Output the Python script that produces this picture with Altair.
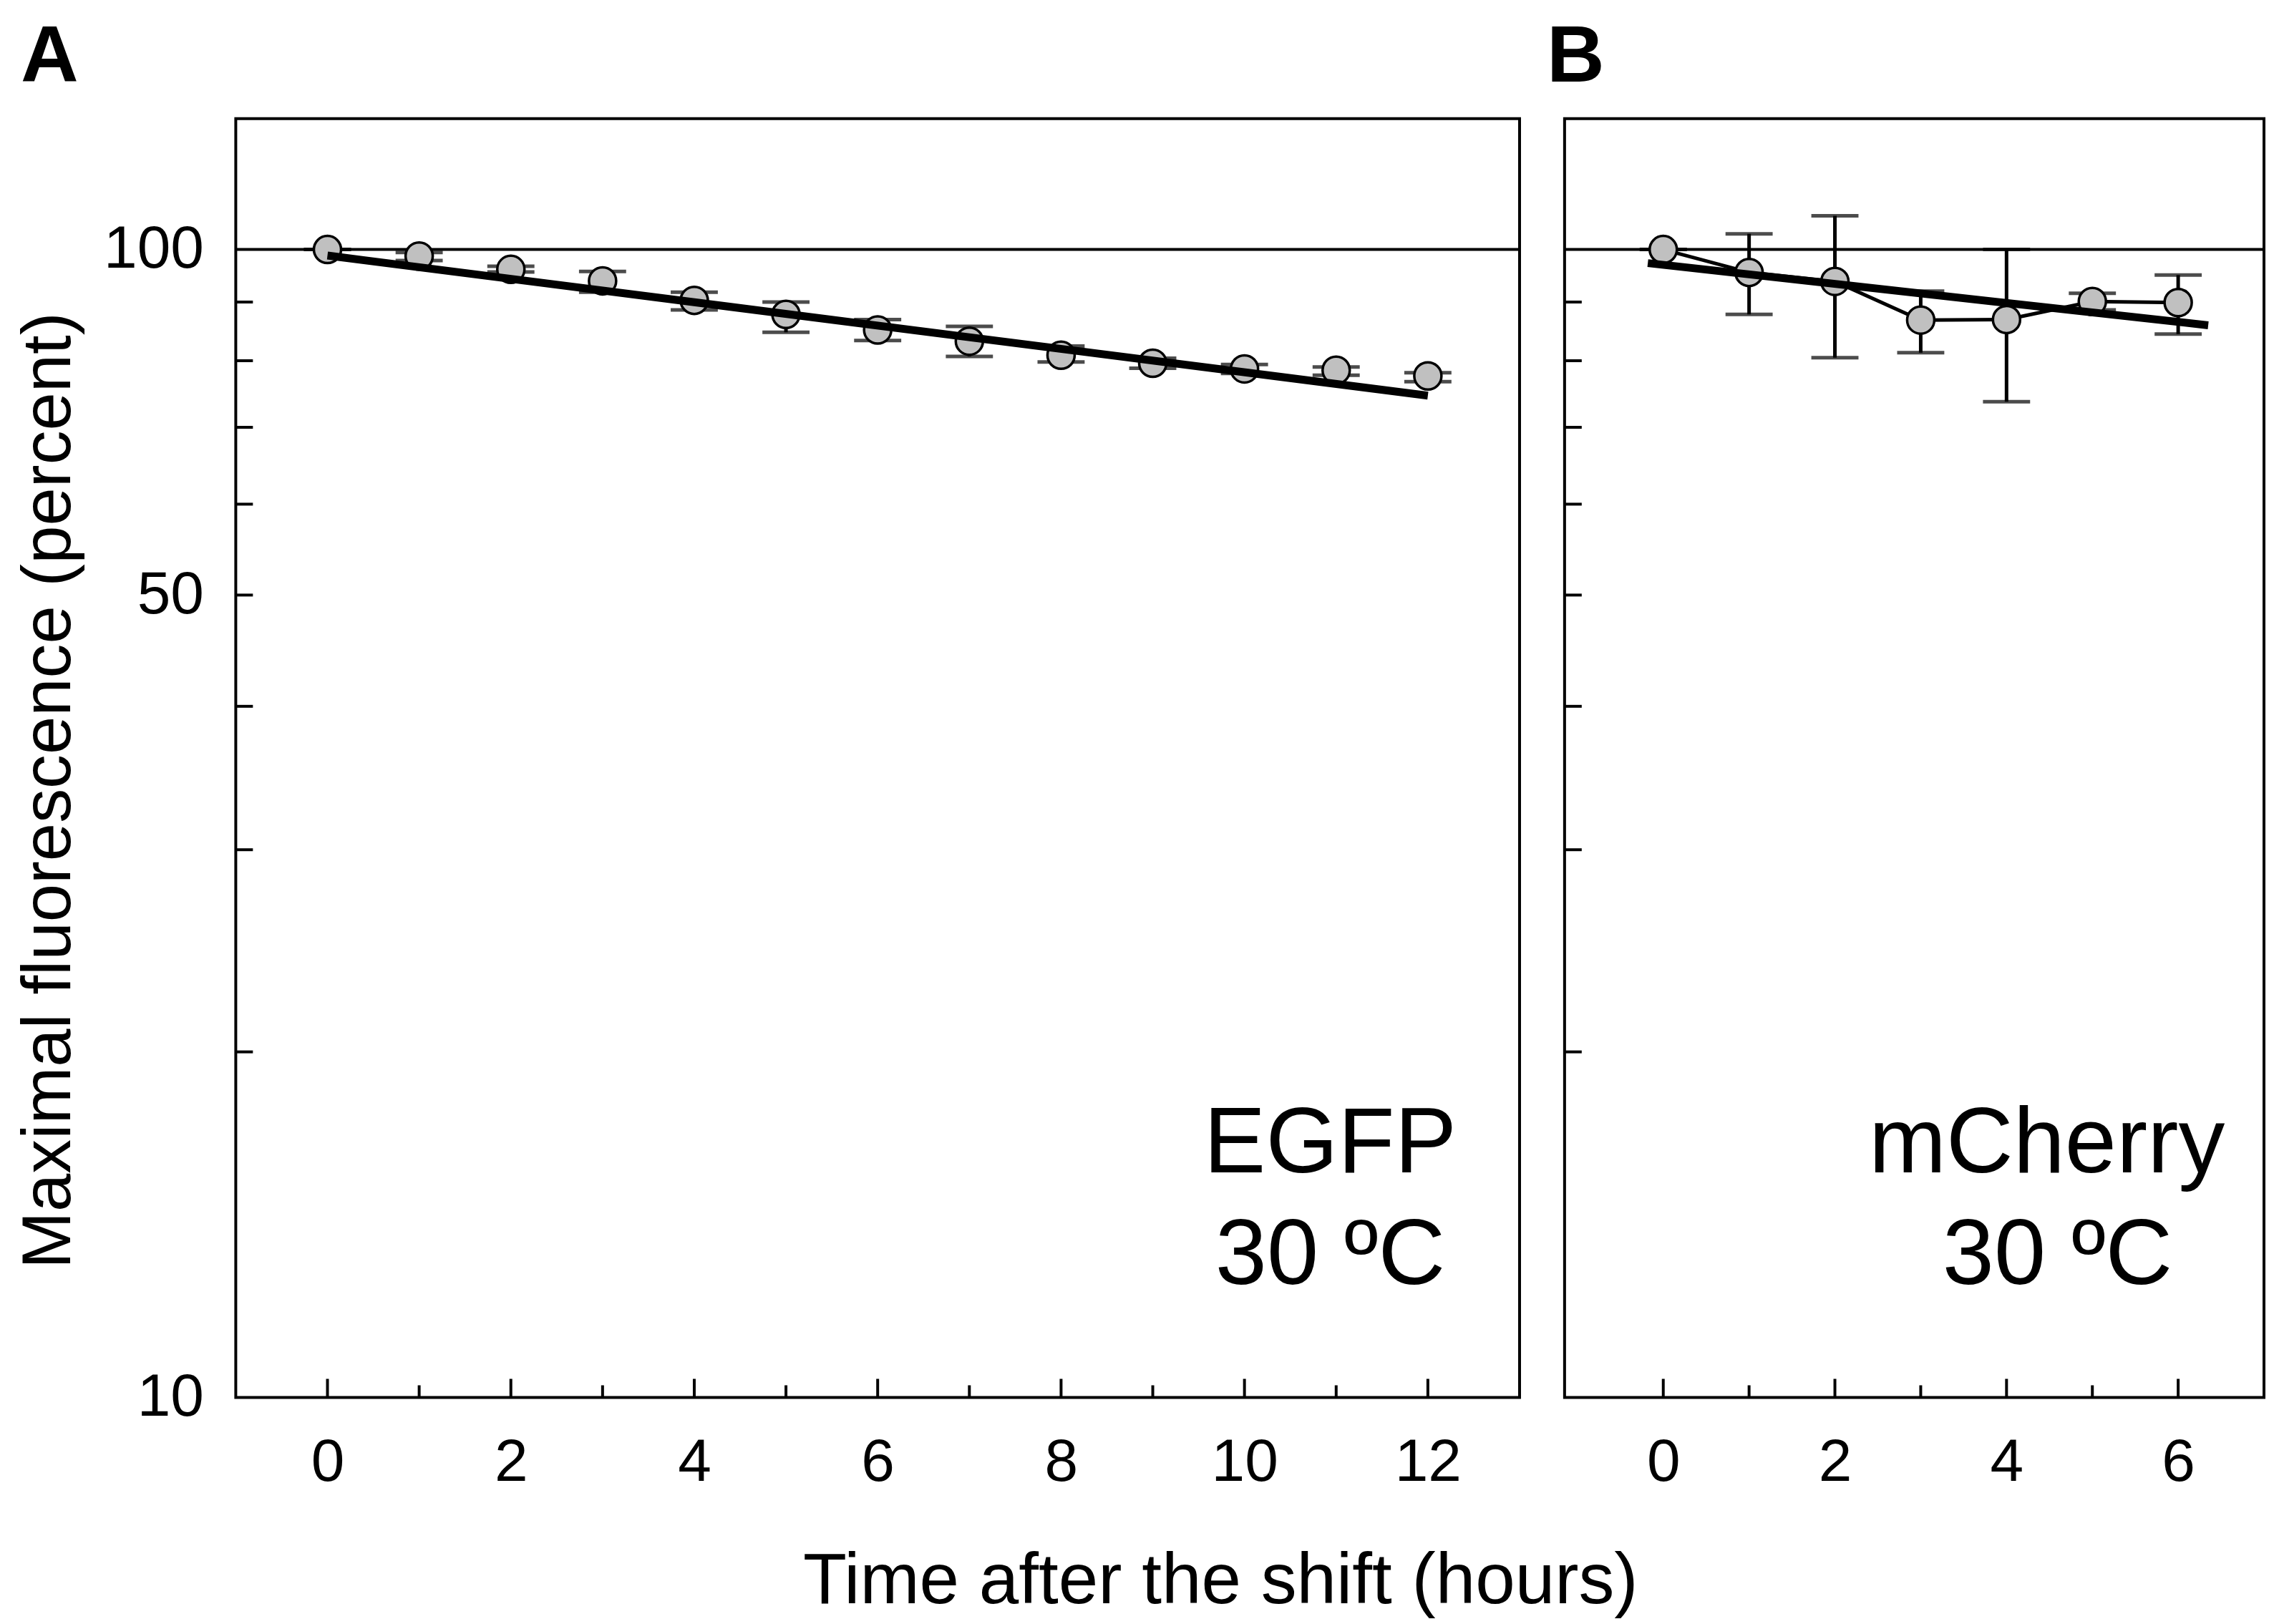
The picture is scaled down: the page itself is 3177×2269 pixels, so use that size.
import altair as alt
import pandas as pd

FONT = "Liberation Sans"

# ---- data ----
hours_a = [0, 1, 2, 3, 4, 5, 6, 7, 8, 9, 10, 11, 12]
egfp_mean = [100.0, 98.7, 96.1, 93.9, 90.3, 87.8, 85.1, 83.2, 80.9, 79.6, 78.7, 78.5, 77.6]
egfp_upper = [100.0, 99.4, 96.7, 95.7, 91.8, 90.0, 86.9, 85.7, 82.4, 80.4, 79.4, 79.0, 78.1]
egfp_lower = [100.0, 97.8, 95.6, 91.8, 88.6, 84.7, 83.3, 80.7, 79.8, 78.8, 78.0, 77.7, 76.7]

hours_b = [0, 1, 2, 3, 4, 5, 6]
mcherry_mean = [100.0, 95.5, 93.8, 86.8, 86.9, 90.1, 89.9]
mcherry_upper = [100.0, 103.2, 107.0, 92.0, 100.0, 91.6, 95.0]
mcherry_lower = [100.0, 87.8, 80.5, 81.3, 73.7, 88.6, 84.4]

fit_a_x = [0, 12]
fit_a_y = [98.8, 74.6]
fit_b_x = [-0.18, 6.35]
fit_b_y = [97.3, 85.9]

reference_level = [100]
y_tick_values = [20, 30, 40, 50, 60, 70, 80, 90]
y_label_values = [10, 50, 100]
x_major_a = [0, 2, 4, 6, 8, 10, 12]
x_minor_a = [1, 3, 5, 7, 9, 11]
x_major_b = [0, 2, 4, 6]
x_minor_b = [1, 3, 5]

panel_letters = ["A", "B"]
annot_a = ["EGFP", "30 ºC"]
annot_b = ["mCherry", "30 ºC"]
x_title = "Time after the shift (hours)"
y_title = "Maximal fluorescence (percent)"

H = 1790
W_A = 1797
W_B = 979


def make_panel(hours, mean, upper, lower, fit_x, fit_y, x_domain, width,
               x_major, x_minor, xaxis, yaxis, connect, annot, annot_pos,
               letter, letter_x):
    xs = alt.Scale(domain=x_domain, nice=False, zero=False)
    ys = alt.Scale(type="log", domain=[10, 130], nice=False)

    def X(f):
        return alt.X(f + ":Q", scale=xs, axis=xaxis)

    def Y(f):
        return alt.Y(f + ":Q", scale=ys, axis=yaxis)

    df = pd.DataFrame({"h": hours, "m": mean, "hi": upper, "lo": lower})
    fit = pd.DataFrame({"h": fit_x, "m": fit_y})

    layers = []
    layers.append(alt.Chart(pd.DataFrame({"v": reference_level}))
                  .mark_rule(color="black", strokeWidth=4)
                  .encode(y=Y("v")))
    layers.append(alt.Chart(pd.DataFrame({"v": y_tick_values}))
                  .mark_rule(color="black", strokeWidth=4)
                  .encode(y=Y("v"), x=alt.value(0), x2=alt.value(24)))
    layers.append(alt.Chart(pd.DataFrame({"h": x_major}))
                  .mark_rule(color="black", strokeWidth=4)
                  .encode(x=X("h"), y=alt.value(H), y2=alt.value(H - 26)))
    layers.append(alt.Chart(pd.DataFrame({"h": x_minor}))
                  .mark_rule(color="black", strokeWidth=4)
                  .encode(x=X("h"), y=alt.value(H), y2=alt.value(H - 17)))
    layers.append(alt.Chart(df).mark_rule(color="black", strokeWidth=5)
                  .encode(x=X("h"), y=Y("lo"), y2="hi:Q"))
    layers.append(alt.Chart(df).mark_tick(orient="horizontal", size=66, thickness=5, color="black")
                  .encode(x=X("h"), y=Y("hi")))
    layers.append(alt.Chart(df).mark_tick(orient="horizontal", size=66, thickness=5, color="black")
                  .encode(x=X("h"), y=Y("lo")))
    if connect:
        layers.append(alt.Chart(df).mark_line(color="black", strokeWidth=5)
                      .encode(x=X("h"), y=Y("m")))
    layers.append(alt.Chart(df).mark_point(shape="circle", filled=True, fill="#c0c0c0",
                                           fillOpacity=1, stroke="black", strokeOpacity=1,
                                           strokeWidth=3.5, size=1450)
                  .encode(x=X("h"), y=Y("m")))
    layers.append(alt.Chart(fit).mark_line(color="black", strokeWidth=11, strokeCap="butt")
                  .encode(x=X("h"), y=Y("m")))
    for txt, (px, py) in zip(annot, annot_pos):
        layers.append(alt.Chart(pd.DataFrame({"t": [txt]}))
                      .mark_text(font=FONT, fontSize=130, align="center",
                                 baseline="alphabetic", color="black")
                      .encode(text="t:N", x=alt.value(px), y=alt.value(py)))
    layers.append(alt.Chart(pd.DataFrame({"t": [letter]}))
                  .mark_text(font=FONT, fontSize=112, fontWeight="bold", align="left",
                             baseline="alphabetic", color="black")
                  .encode(text="t:N", x=alt.value(letter_x), y=alt.value(-52)))
    return alt.layer(*layers).properties(width=width, height=H)


common_x = dict(ticks=False, domain=False, grid=False, labelFont=FONT, labelFontSize=84,
                labelColor="black", labelPadding=50, labelFlush=False)

xaxis_a = alt.Axis(values=x_major_a, title=x_title, titleFont=FONT, titleFontSize=100,
                   titleFontWeight="normal", titleColor="black", titleX=1378, titleY=288,
                   titleBaseline="alphabetic", titleAlign="center", **common_x)
xaxis_b = alt.Axis(values=x_major_b, title="", **common_x)

yaxis_a = alt.Axis(values=y_label_values, ticks=False, domain=False, grid=False,
                   labelFont=FONT, labelFontSize=84, labelColor="black", labelPadding=45,
                   title=y_title, titleFont=FONT, titleFontSize=96, titleFontWeight="normal",
                   titleColor="black", titleX=-232, titleY=940, titleBaseline="alphabetic",
                   titleAlign="center", titleAngle=270)
yaxis_b = alt.Axis(values=y_label_values, ticks=False, domain=False, grid=False,
                   labels=False, title="")

panel_a = make_panel(hours_a, egfp_mean, egfp_upper, egfp_lower, fit_a_x, fit_a_y,
                     [-1, 13], W_A, x_major_a, x_minor_a, xaxis_a, yaxis_a, False,
                     annot_a, [(1532, 1475), (1532, 1631)], panel_letters[0], -301)
panel_b = make_panel(hours_b, mcherry_mean, mcherry_upper, mcherry_lower, fit_b_x, fit_b_y,
                     [-1.15, 7], W_B, x_major_b, x_minor_b, xaxis_b, yaxis_b, True,
                     annot_b, [(675, 1475), (690, 1631)], panel_letters[1], -25)

chart = (alt.hconcat(panel_a, panel_b, spacing=63, bounds="flush")
         .properties(padding={"left": 10, "top": 12, "right": 2, "bottom": 0},
                     background="white")
         .configure_view(stroke="black", strokeWidth=4))

chart.save("out.html", embed_options={"renderer": "svg", "actions": False})
